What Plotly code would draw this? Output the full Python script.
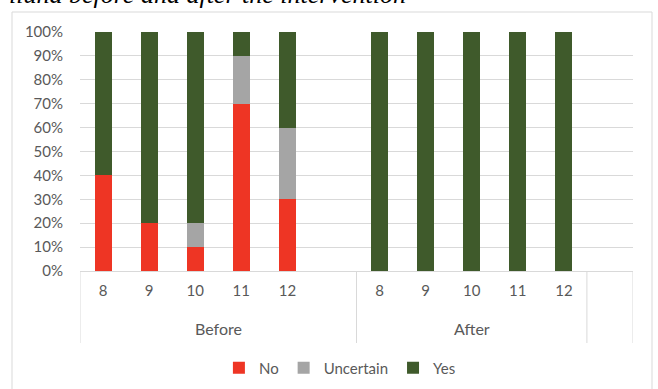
import plotly.graph_objects as go

groups = ["Before"] * 6 + ["After"] * 5 + [""]
grades = ["8", "9", "10", "11", "12", "", "8", "9", "10", "11", "12", ""]
no_vals = [40, 20, 10, 70, 30, 0, 0, 0, 0, 0, 0, 0]
uncertain_vals = [0, 0, 10, 20, 30, 0, 0, 0, 0, 0, 0, 0]
yes_vals = [60, 80, 80, 10, 40, 0, 100, 100, 100, 100, 100, 0]
y_ticks = list(range(0, 101, 10))
y_tick_labels = [f"{v}%" for v in y_ticks]
group_names = ["Before", "After"]

series = [("No", no_vals, "#EE3524"), ("Uncertain", uncertain_vals, "#A5A5A5"), ("Yes", yes_vals, "#3F5A2B")]
x_keys = [f"{g}|{c}|{i}" for i, (g, c) in enumerate(zip(groups, grades))]

font = "Lato, 'Open Sans', sans-serif"
grey = "#595959"
line_grey = "#D9D9D9"
plot_h = 239
fs = 15

fig = go.Figure()
for name, vals, color in series:
    fig.add_trace(go.Bar(x=x_keys, y=vals, name=name,
                         marker=dict(color=color, line=dict(width=0))))

fig.update_layout(
    width=658, height=389,
    barmode="stack", bargap=0.63,
    margin=dict(l=80, r=25, t=32, b=118, autoexpand=False),
    paper_bgcolor="white", plot_bgcolor="white",
    font=dict(family=font, size=fs, color=grey),
    showlegend=True,
    legend=dict(orientation="h", x=0.47, xanchor="center", y=-97/plot_h, yanchor="middle",
                font=dict(size=fs, color=grey), itemwidth=30, traceorder="normal",
                tracegroupgap=0),
    xaxis=dict(type="category", tickvals=x_keys, ticktext=grades, showline=True,
               linecolor=line_grey, linewidth=1, ticks="", showgrid=False,
               tickfont=dict(size=fs, color=grey), ticklabelstandoff=6, automargin=False,
               range=[-0.5, len(x_keys) - 0.5]),
    yaxis=dict(range=[0, 100], tickvals=y_ticks, ticktext=y_tick_labels,
               showgrid=True, gridcolor=line_grey, gridwidth=1, zeroline=False,
               tickfont=dict(size=fs, color=grey), ticks="", ticklabelstandoff=16,
               automargin=False),
)

# group dividers below the category axis
for xb in [-0.5, 5.5, 10.5, 11.5]:
    fig.add_shape(type="line", xref="x", yref="paper", x0=xb, x1=xb, y0=0, y1=-72/plot_h,
                  line=dict(color=line_grey, width=1))

# group labels
for gname, xc in zip(group_names, [2.5, 8]):
    fig.add_annotation(text=gname, xref="x", yref="paper", x=xc, y=-57/plot_h,
                       xanchor="center", yanchor="middle", showarrow=False,
                       font=dict(size=fs + 1, color=grey, family=font))

# chart border
fig.add_shape(type="rect", xref="paper", yref="paper",
              x0=-68/553, x1=1+19/553, y0=-1.0, y1=1+20/plot_h,
              line=dict(color=line_grey, width=1), fillcolor="rgba(0,0,0,0)", layer="below")

fig.add_annotation(text="iluna before and after the intervention", xref="paper", yref="paper",
                   x=328/553, y=1, xanchor="right", yanchor="bottom", yshift=21, showarrow=False,
                   font=dict(family="'Liberation Serif', serif", size=26, color="#000000",
                             style="italic"))

fig.write_html("out.html")
